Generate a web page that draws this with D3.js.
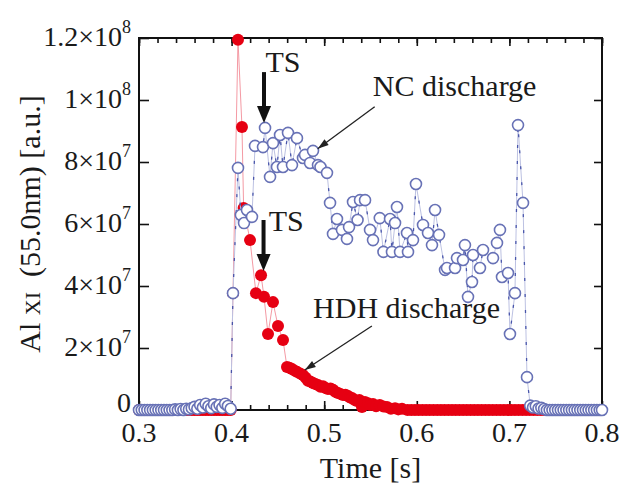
<!DOCTYPE html>
<html>
<head>
<meta charset="utf-8">
<script src="https://cdn.jsdelivr.net/npm/d3@7"></script>
<style>
  body { margin: 0; background: #fff; }
  text { font-family: "Liberation Serif", "Times New Roman", serif; fill: #1a1a1a; }
</style>
</head>
<body>
<svg id="chart" width="633" height="486"></svg>
<script>
// NC discharge (open blue circles)
var ncTime = [0.300,0.303,0.306,0.309,0.312,0.315,0.318,0.321,0.324,0.327,0.330,0.333,0.336,0.339,0.342,0.345,0.348,0.351,0.354,0.357,
  0.360,0.363,0.366,0.369,0.372,0.375,0.378,0.381,0.384,0.387,0.390,0.393,0.396,0.399,
  0.4015,0.4069,0.4100,0.4134,0.4166,0.4220,0.4253,0.4339,0.4361,0.4415,0.4447,0.4490,0.4523,0.4555,0.4609,0.4652,
  0.4706,0.4771,0.4793,0.4847,0.4879,0.4933,0.4960,0.5030,0.5063,0.5095,0.5138,0.5192,0.5246,0.5268,0.5311,0.5360,
  0.5387,0.5441,0.5495,0.5527,0.5600,0.5640,0.5711,0.5732,0.5765,0.5786,0.5819,0.5894,0.5905,0.5959,0.5991,0.6067,
  0.6121,0.6164,0.6197,0.6240,0.6305,0.6326,0.6413,0.6434,0.6499,0.6520,0.6553,0.6596,0.6607,0.6682,0.6715,0.6823,
  0.6866,0.6898,0.6920,0.6985,0.7006,0.7060,0.7093,0.7147,0.7190,
  0.7225,0.7255,0.7285,0.7315,0.7345,0.7375,0.7405,0.7435,0.7465,0.7495,0.7525,0.7555,0.7585,0.7615,0.7645,0.7675,
  0.7705,0.7735,0.7765,0.7795,0.7825,0.7855,0.7885,0.7915,0.7945,0.7975,0.8000];
var ncValue = [0,0,0,0,0,0,0,0,0,0,0,0,0,2e5,0,3e5,0,4e5,2e5,6e5,
  1.0e6,4e5,1.6e6,8e5,2.0e6,1.2e6,6e5,1.8e6,1.0e6,1.6e6,7e5,2.0e6,1.3e6,4e5,
  3.77e7,7.81e7,6.29e7,6.03e7,6.45e7,6.23e7,8.52e7,8.48e7,9.10e7,7.52e7,8.61e7,7.84e7,8.87e7,7.84e7,8.94e7,7.90e7,
  8.77e7,8.13e7,8.23e7,7.97e7,8.36e7,7.90e7,7.84e7,7.65e7,6.68e7,5.68e7,6.16e7,5.81e7,5.52e7,5.90e7,6.71e7,6.13e7,
  6.77e7,6.77e7,5.81e7,5.48e7,6.19e7,5.10e7,6.16e7,5.10e7,6.03e7,6.55e7,5.10e7,5.71e7,5.10e7,5.48e7,7.29e7,5.97e7,
  5.71e7,5.32e7,6.45e7,5.65e7,4.52e7,4.58e7,4.58e7,4.90e7,4.84e7,5.32e7,3.65e7,4.13e7,5.00e7,4.58e7,5.16e7,4.90e7,
  5.39e7,5.81e7,4.29e7,4.42e7,2.45e7,3.77e7,9.19e7,6.68e7,1.06e7,
  1.4e6,8e5,1.2e6,5e5,7e5,3e5,0,0,0,0,0,0,0,0,0,0,
  0,0,0,0,0,0,0,0,0,0,0];

// HDH discharge (filled red circles)
var hdhTime = [0.300,0.303,0.306,0.309,0.312,0.315,0.318,0.321,0.324,0.327,0.330,0.333,0.336,0.339,0.342,0.345,0.348,0.351,0.354,0.357,
  0.360,0.363,0.366,0.369,0.372,0.375,0.378,0.381,0.384,0.387,0.390,0.393,0.396,0.399,
  0.4015,0.4069,0.4112,0.4130,0.4199,0.4263,0.4318,0.4350,0.4393,0.4447,0.4501,0.4555,0.4598,0.4625,0.4652,0.4680,0.4706,0.4740,0.4771,
  0.4800,0.4825,0.4850,0.4879,0.4905,0.4933,0.4960,0.4987,0.5015,0.5041,0.5068,0.5095,0.5120,0.5149,0.5175,0.5203,0.5230,0.5257,
  0.5280,0.5300,0.5325,0.5354,0.5380,0.5408,0.5440,0.5473,0.5500,0.5527,
  0.5560,0.5600,0.5640,0.5678,0.5720,0.5765,0.5800,0.5840,
  0.590,0.594,0.598,0.602,0.606,0.610,0.614,0.618,0.622,0.626,0.630,0.634,0.638,0.642,0.646,0.650,0.654,0.658,0.662,0.666,
  0.670,0.674,0.678,0.682,0.686,0.690,0.694,0.698,0.702,0.706,0.710,0.714,0.718,0.722,0.726,0.730,0.734,0.738,0.742,0.746];
var hdhValue = [0,0,0,0,0,0,0,0,0,0,0,0,0,0,0,0,0,0,0,0,
  0,0,0,0,0,0,0,0,0,0,0,0,0,0,
  3.77e7,1.194e8,9.13e7,6.52e7,5.48e7,3.77e7,4.35e7,3.65e7,2.45e7,3.48e7,2.71e7,2.26e7,1.39e7,1.36e7,1.32e7,1.27e7,1.23e7,1.18e7,1.13e7,
  1.04e7,9.4e6,9.2e6,8.7e6,8.4e6,8.1e6,7.5e6,7.7e6,7.1e6,6.8e6,6.9e6,6.5e6,5.9e6,5.5e6,5.2e6,4.8e6,4.9e6,4.5e6,
  4.0e6,3.9e6,3.3e6,2.9e6,3.2e6,1.0e6,2.6e6,2.2e6,1.6e6,1.9e6,
  1.2e6,1.6e6,1.1e6,1.0e6,4e5,6e5,2e5,4e5,
  0,0,0,0,0,0,0,0,0,0,0,0,0,0,0,0,0,0,0,0,
  0,0,0,0,0,0,0,0,0,0,0,0,0,0,0,0,0,0,0,0];

var xTicks = [0.3, 0.4, 0.5, 0.6, 0.7, 0.8];
var xTickLabels = ["0.3", "0.4", "0.5", "0.6", "0.7", "0.8"];
var yTicks = [0, 2e7, 4e7, 6e7, 8e7, 1e8, 1.2e8];
var yTickMantissa = ["0", "2", "4", "6", "8", "1", "1.2"];
var yTickExponent = ["", "7", "7", "7", "7", "8", "8"];

var svg = d3.select("#chart");
var mLeft = 139, mRight = 602, mTop = 38, mBottom = 410;

var x = d3.scaleLinear().domain([0.3, 0.8]).range([mLeft, mRight]);
var y = d3.scaleLinear().domain([0, 1.2e8]).range([mBottom, mTop]);

var nc = ncTime.map(function(t, i){ return {t: t, v: ncValue[i]}; });
var hdh = hdhTime.map(function(t, i){ return {t: t, v: hdhValue[i]}; });

var minorX = d3.range(0.3, 0.8001, 0.02);

// ticks, pointing inwards
function tickAxis(axis, tr, values, size) {
  svg.append("g")
    .attr("transform", tr)
    .call(axis.tickValues(values).tickSize(size).tickFormat(""))
    .call(function(g){ g.select(".domain").remove(); })
    .selectAll("line").attr("stroke", "#111").attr("stroke-width", 1.6);
}
tickAxis(d3.axisBottom(x), "translate(0," + mBottom + ")", minorX, -5);
tickAxis(d3.axisBottom(x), "translate(0," + mBottom + ")", xTicks, -9);
tickAxis(d3.axisTop(x), "translate(0," + mTop + ")", minorX, -5);
tickAxis(d3.axisTop(x), "translate(0," + mTop + ")", xTicks, -8);
tickAxis(d3.axisLeft(y), "translate(" + mLeft + ",0)", yTicks, -10);
tickAxis(d3.axisRight(y), "translate(" + mRight + ",0)", yTicks, -8);

// frame
svg.append("rect")
  .attr("x", mLeft).attr("y", mTop)
  .attr("width", mRight - mLeft).attr("height", mBottom - mTop)
  .attr("fill", "none").attr("stroke", "#111").attr("stroke-width", 2);

// HDH series
var line = d3.line().x(function(d){ return x(d.t); }).y(function(d){ return y(d.v); });
svg.append("path").datum(hdh)
  .attr("d", line).attr("fill", "none")
  .attr("stroke", "#f49aa4").attr("stroke-width", 1);
svg.append("g").selectAll("circle").data(hdh).enter().append("circle")
  .attr("cx", function(d){ return x(d.t); })
  .attr("cy", function(d){ return y(d.v); })
  .attr("r", 6)
  .attr("fill", "#e60012");

// NC series
svg.append("path").datum(nc)
  .attr("d", line).attr("fill", "none")
  .attr("stroke", "#bcc1e2").attr("stroke-width", 1);
svg.append("path").datum(nc)
  .attr("d", line).attr("fill", "none")
  .attr("stroke", "#2a3a9c").attr("stroke-width", 1.3)
  .attr("stroke-opacity", 0.8)
  .attr("stroke-dasharray", "3,13");
svg.append("g").selectAll("circle").data(nc).enter().append("circle")
  .attr("cx", function(d){ return x(d.t); })
  .attr("cy", function(d){ return y(d.v); })
  .attr("r", 5.5)
  .attr("fill", "#fff")
  .attr("stroke", "#6872b6")
  .attr("stroke-width", 1.6);

// tick labels
svg.append("g").selectAll("text").data(xTicks).enter().append("text")
  .attr("x", function(d){ return x(d); })
  .attr("y", mBottom + 32)
  .attr("text-anchor", "middle")
  .attr("font-size", 28)
  .text(function(d, i){ return xTickLabels[i]; });

var yl = svg.append("g").selectAll("text").data(yTicks).enter().append("text")
  .attr("x", mLeft - 8)
  .attr("y", function(d, i){ return y(d) + (i === 0 ? 2 : 8); })
  .attr("text-anchor", "end")
  .attr("font-size", 28);
yl.append("tspan").text(function(d, i){ return i === 0 ? "0" : yTickMantissa[i] + "\u00d710"; });
yl.append("tspan")
  .attr("dy", -13).attr("font-size", 18)
  .text(function(d, i){ return yTickExponent[i]; });

// axis titles
svg.append("text")
  .attr("x", (mLeft + mRight) / 2).attr("y", 478)
  .attr("text-anchor", "middle").attr("font-size", 30)
  .text("Time [s]");

var yt = svg.append("text")
  .attr("transform", "translate(40," + ((mTop + mBottom) / 2) + ") rotate(-90)")
  .attr("text-anchor", "middle").attr("font-size", 30)
  .style("white-space", "pre");
yt.append("tspan").text("Al ");
yt.append("tspan").attr("font-size", 22).text("XI");
yt.append("tspan").text("  (55.0nm) [a.u.]");

// annotations
function bigArrow(t, v0, v1) {
  var ax = x(t), ay0 = y(v0), ay1 = y(v1);
  svg.append("line").attr("x1", ax).attr("x2", ax).attr("y1", ay0).attr("y2", ay1 - 14)
    .attr("stroke", "#111").attr("stroke-width", 4);
  svg.append("path")
    .attr("d", "M" + (ax - 7) + "," + (ay1 - 17) + "L" + (ax + 7) + "," + (ay1 - 17) + "L" + ax + "," + ay1 + "Z")
    .attr("fill", "#111");
}
function pointer(x0, y0, x1, y1) {
  var ang = Math.atan2(y1 - y0, x1 - x0), L = 11, W = 3.5;
  svg.append("line").attr("x1", x0).attr("y1", y0).attr("x2", x1).attr("y2", y1)
    .attr("stroke", "#222").attr("stroke-width", 1.3);
  var bx = x1 - L * Math.cos(ang), by = y1 - L * Math.sin(ang);
  svg.append("path")
    .attr("d", "M" + x1 + "," + y1 +
      "L" + (bx + W * Math.sin(ang)) + "," + (by - W * Math.cos(ang)) +
      "L" + (bx - W * Math.sin(ang)) + "," + (by + W * Math.cos(ang)) + "Z")
    .attr("fill", "#222");
}

bigArrow(0.4350, 1.09e8, 9.26e7);
svg.append("text").attr("x", x(0.4365)).attr("y", y(1.09e8)).attr("font-size", 30).text("TS");
bigArrow(0.4345, 6.13e7, 4.48e7);
svg.append("text").attr("x", x(0.4400)).attr("y", y(5.76e7)).attr("font-size", 30).text("TS");

svg.append("text").attr("x", x(0.5525)).attr("y", y(1.012e8)).attr("font-size", 30).text("NC discharge");
pointer(x(0.5545), y(9.78e7), x(0.4930), y(8.43e7));

svg.append("text").attr("x", x(0.4880)).attr("y", y(2.97e7)).attr("font-size", 30).text("HDH discharge");
pointer(x(0.5515), y(2.71e7), x(0.4790), y(1.29e7));
</script>
</body>
</html>
